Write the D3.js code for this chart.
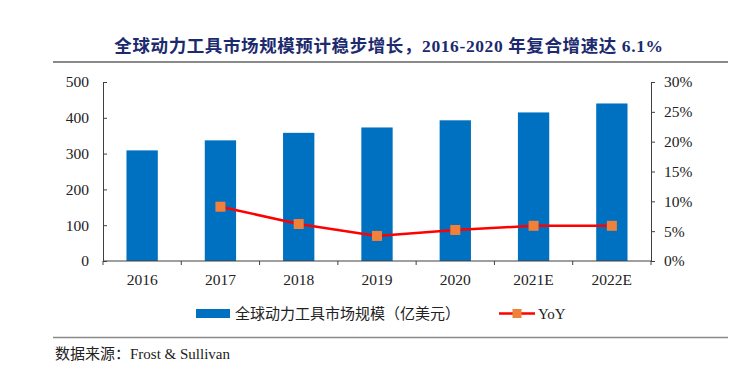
<!DOCTYPE html>
<html><head><meta charset="utf-8">
<script src="https://cdn.jsdelivr.net/npm/d3@7/dist/d3.min.js"></script>
<style>
html,body{margin:0;padding:0;background:#fff;}
svg{display:block;}
</style></head>
<body>
<script>
const categories = ["2016","2017","2018","2019","2020","2021E","2022E"];
const marketSize = [309, 337, 358, 373, 393, 415, 440];
const yoy = [null, 9.1, 6.2, 4.2, 5.2, 5.9, 5.9];
const leftTicks = [0,100,200,300,400,500];
const rightTicks = [0,5,10,15,20,25,30];
const titleText = "全球动力工具市场规模预计稳步增长，2016-2020 年复合增速达 6.1%";
const legendBar = "全球动力工具市场规模（亿美元）";
const legendLine = "YoY";
const sourceText = "数据来源：Frost & Sullivan";

const W = 750, H = 383;
const FONT = "'Liberation Serif','Times New Roman','Noto Sans CJK SC',serif";
const svg = d3.select("body").append("svg").attr("width", W).attr("height", H);

const plot = {l:103, r:651, t:82, b:261};
const x = d3.scaleBand().domain(categories).range([plot.l, plot.r]).paddingInner(0.6).paddingOuter(0.3);
const yL = d3.scaleLinear().domain([0,500]).range([plot.b, plot.t]);
const yR = d3.scaleLinear().domain([0,30]).range([plot.b, plot.t]);

// title
svg.append("text").attr("x", 389).attr("y", 52).attr("text-anchor","middle")
  .attr("font-family", FONT).attr("font-weight","bold").attr("font-size", 17.5)
  .attr("fill","#1c2a6e").attr("letter-spacing", 0.6).text(titleText);
svg.append("line").attr("x1",53).attr("x2",728).attr("y1",62).attr("y2",62)
  .attr("stroke","#8a8a8a").attr("stroke-width",2);

// bars
svg.append("g").selectAll("rect").data(categories).join("rect")
  .attr("x", d => x(d)).attr("width", x.bandwidth())
  .attr("y", (d,i) => yL(marketSize[i])).attr("height", (d,i) => plot.b - yL(marketSize[i]))
  .attr("fill","#0070c0");

// axes
const axisColor = "#404040";
const gL = svg.append("g").attr("transform",`translate(${plot.l},0)`)
  .call(d3.axisLeft(yL).tickValues(leftTicks).tickSize(-4).tickPadding(14));
const gR = svg.append("g").attr("transform",`translate(${plot.r},0)`)
  .call(d3.axisRight(yR).tickValues(rightTicks).tickSize(4).tickPadding(9).tickFormat(d => d + "%"));
// x axis with ticks between categories
const step = x.step();
const boundaries = d3.range(categories.length + 1).map(i => plot.l + i * step);
const gX = svg.append("g");
gX.append("line").attr("x1",plot.l).attr("x2",plot.r).attr("y1",plot.b).attr("y2",plot.b)
  .attr("stroke",axisColor);
gX.selectAll("line.tk").data(boundaries).join("line").attr("class","tk")
  .attr("x1",d=>d).attr("x2",d=>d).attr("y1",plot.b).attr("y2",plot.b+4).attr("stroke",axisColor);
gX.selectAll("text").data(categories).join("text")
  .attr("x", d => x(d) + x.bandwidth()/2).attr("y", 285).attr("text-anchor","middle")
  .attr("font-family", FONT).attr("font-size", 15.5).attr("fill","#222").text(d => d);

[gL, gR].forEach(g => {
  g.selectAll("path.domain").attr("stroke", axisColor);
  g.selectAll(".tick line").attr("stroke", axisColor);
  g.selectAll("text").attr("font-family", FONT).attr("font-size", 15.5).attr("fill","#222");
});

// line
const pts = categories.map((c,i) => ({c, v: yoy[i]})).filter(d => d.v !== null);
const line = d3.line().x(d => x(d.c) + x.bandwidth()/2).y(d => yR(d.v));
svg.append("path").datum(pts).attr("d", line).attr("fill","none")
  .attr("stroke","#ff0000").attr("stroke-width",2.5);
svg.append("g").selectAll("rect").data(pts).join("rect")
  .attr("x", d => x(d.c) + x.bandwidth()/2 - 5).attr("y", d => yR(d.v) - 5)
  .attr("width",10).attr("height",10).attr("fill","#f0813a");

// legend
const lg = svg.append("g");
lg.append("rect").attr("x",196).attr("y",309).attr("width",34).attr("height",9).attr("fill","#0070c0");
lg.append("text").attr("x",235).attr("y",319).attr("font-family", FONT).attr("font-size",15)
  .attr("fill","#222").text(legendBar);
lg.append("line").attr("x1",499).attr("x2",535).attr("y1",313.5).attr("y2",313.5)
  .attr("stroke","#ff0000").attr("stroke-width",2.5);
lg.append("rect").attr("x",512.5).attr("y",309).attr("width",9).attr("height",9).attr("fill","#f0813a");
lg.append("text").attr("x",538).attr("y",319).attr("font-family", FONT).attr("font-size",15)
  .attr("fill","#222").text(legendLine);

// source
svg.append("line").attr("x1",53).attr("x2",728).attr("y1",337.5).attr("y2",337.5)
  .attr("stroke","#8a8a8a").attr("stroke-width",1.5);
svg.append("text").attr("x",55).attr("y",359).attr("font-family", FONT).attr("font-size",15)
  .attr("fill","#222").text(sourceText);
</script>
</body></html>
